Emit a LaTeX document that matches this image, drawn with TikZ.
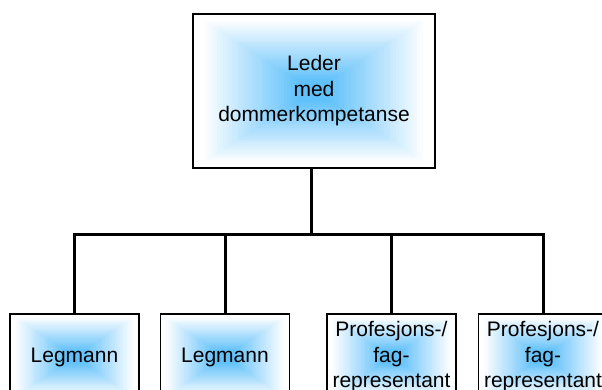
\documentclass[tikz,border=0pt]{standalone}
\usepackage{fontspec}
\setmainfont{Liberation Sans}
\usetikzlibrary{backgrounds,calc}
\definecolor{glow}{RGB}{95,192,250}
\tikzset{
  unit/.style={draw=black, line width=1.3pt, inner sep=0pt, align=center,
    font=\fontsize{21}{25.5}\selectfont},
  headunit/.style={unit, minimum width=242pt, minimum height=154pt},
  staffunit/.style={unit, minimum width=129pt, minimum height=86pt},
  link/.style={draw=black, line width=3pt},
}
% rectangular "from centre" gradient: nested rectangles, white edge to blue core
\newcommand\glowfill[1]{%
  \foreach \k in {0,...,40}{%
    \pgfmathsetmacro\s{1-\k/40}%
    \pgfmathtruncatemacro\p{max(0,min(100,(0.93-\s)/0.8*100))}%
    \fill[glow!\p!white] ($(#1.center)!\s!(#1.south west)$) rectangle ($(#1.center)!\s!(#1.north east)$);
  }}
\begin{document}
\begin{tikzpicture}[x=1pt, y=-1pt]
  \useasboundingbox (0,0) rectangle (602,390);

  \node[headunit] (top) at (314,91) {Leder\\med\\dommerkompetanse};
  \node[staffunit] (l1) at (74.5,357) {Legmann};
  \node[staffunit] (l2) at (225,357) {Legmann};
  \node[staffunit] (p1) at (391.5,357) {Profesjons-/\\fag-\\representant};
  \node[staffunit] (p2) at (543,357) {Profesjons-/\\fag-\\representant};

  \begin{scope}[on background layer]
    \glowfill{top}
    \glowfill{l1}
    \glowfill{l2}
    \glowfill{p1}
    \glowfill{p2}
  \end{scope}

  % tree connectors
  \coordinate (hub) at (311,234);
  \draw[link] (top.south -| hub) -- (hub);
  \draw[link] (l1.north) -- (l1.north |- hub) -- (p2.north |- hub) -- (p2.north);
  \draw[link] (l2.north) -- (l2.north |- hub);
  \draw[link] (p1.north) -- (p1.north |- hub);
\end{tikzpicture}
\end{document}
